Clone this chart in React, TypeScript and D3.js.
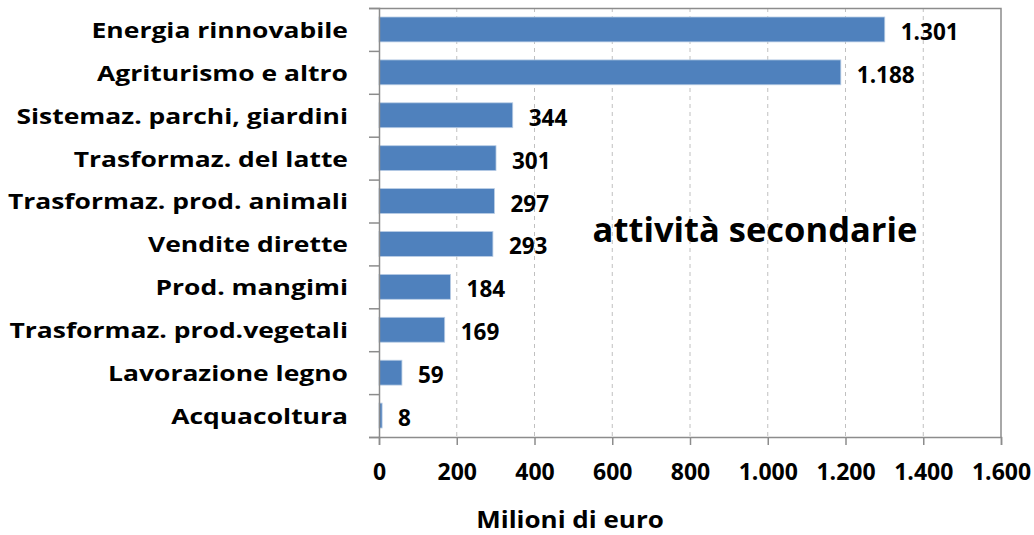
import { useEffect, useRef } from 'react'
import * as d3 from 'd3'

// categories, top to bottom
const categories = [
  'Energia rinnovabile',
  'Agriturismo e altro',
  'Sistemaz. parchi, giardini',
  'Trasformaz. del latte',
  'Trasformaz. prod. animali',
  'Vendite dirette',
  'Prod. mangimi',
  'Trasformaz. prod.vegetali',
  'Lavorazione legno',
  'Acquacoltura',
]
// values in millions of euro
const values = [1301, 1188, 344, 301, 297, 293, 184, 169, 59, 8]
const xTicks = [0, 200, 400, 600, 800, 1000, 1200, 1400, 1600]

const FONT = "'Open Sans', sans-serif"
// Italian thousands separator
const fmt = (v: number) => d3.format(',')(v).replace(/,/g, '.')

const App = () => {
  const svgRef = useRef<SVGSVGElement>(null)
  const width = 1034
  const height = 535
  const margin = { top: 8, right: 33, bottom: 98, left: 379 }

  useEffect(() => {
    const innerW = width - margin.left - margin.right
    const innerH = height - margin.top - margin.bottom

    const xScale = d3.scaleLinear().domain([0, 1600]).range([0, innerW])
    const yScale = d3
      .scaleBand()
      .domain(categories)
      .range([0, innerH])
      .paddingInner(0.42)
      .paddingOuter(0.21)

    const svgEl = d3.select(svgRef.current)
    svgEl.selectAll('*').remove()
    const svg = svgEl
      .append('g')
      .attr('transform', `translate(${margin.left},${margin.top})`)

    // dashed vertical gridlines
    svg
      .selectAll('.grid')
      .data(xTicks.slice(1, -1))
      .enter()
      .append('line')
      .attr('x1', (d) => xScale(d))
      .attr('x2', (d) => xScale(d))
      .attr('y1', 0)
      .attr('y2', innerH)
      .attr('stroke', '#c0c0c0')
      .attr('stroke-width', 1)
      .attr('stroke-dasharray', '4,4')

    // plot area border top/right
    svg
      .append('path')
      .attr('d', `M0,0.5H${innerW}V${innerH}`)
      .attr('fill', 'none')
      .attr('stroke', '#8c8c8c')
      .attr('stroke-width', 1.5)

    // bars
    svg
      .selectAll('.bar')
      .data(values)
      .enter()
      .append('rect')
      .attr('x', 0)
      .attr('y', (d, i) => yScale(categories[i]) as number)
      .attr('width', (d) => xScale(d))
      .attr('height', yScale.bandwidth())
      .attr('fill', '#4f81bd')
      .attr('stroke', '#b9cde5')
      .attr('stroke-width', 0.8)

    // data labels (outside end)
    svg
      .selectAll('.val')
      .data(values)
      .enter()
      .append('text')
      .attr('x', (d) => xScale(d) + 16)
      .attr('y', (d, i) => (yScale(categories[i]) as number) + yScale.bandwidth() / 2 + 2)
      .attr('dominant-baseline', 'central')
      .style('font-family', FONT)
      .style('font-weight', '700')
      .style('font-size', '22.5px')
      .style('fill', '#000')
      .text((d) => fmt(d))

    // y axis with ticks between categories
    const yAxis = d3
      .axisLeft(d3.scaleLinear().domain([0, categories.length]).range([0, innerH]))
      .tickValues(d3.range(0, categories.length + 1))
      .tickSize(10)
      .tickFormat(() => '')
    const yAxisGroup = svg.append('g').call(yAxis)
    yAxisGroup.selectAll('line, path').attr('stroke', '#8c8c8c').attr('stroke-width', 1.5)

    // category labels, a bit stretched horizontally like the original
    svg
      .selectAll('.cat')
      .data(categories)
      .enter()
      .append('text')
      .attr(
        'transform',
        (d) => `translate(-31,${(yScale(d) as number) + yScale.bandwidth() / 2}) scale(1.26,1)`
      )
      .attr('text-anchor', 'end')
      .attr('dominant-baseline', 'central')
      .style('font-family', FONT)
      .style('font-weight', '700')
      .style('font-size', '21px')
      .style('fill', '#000')
      .text((d) => d)

    // x axis
    const xAxis = d3
      .axisBottom(xScale)
      .tickValues(xTicks)
      .tickSize(8)
      .tickPadding(19)
      .tickFormat((d) => fmt(d as number))
    const xAxisGroup = svg
      .append('g')
      .attr('transform', `translate(0, ${innerH})`)
      .call(xAxis)
    xAxisGroup.selectAll('line, path').attr('stroke', '#8c8c8c').attr('stroke-width', 1.5)
    xAxisGroup
      .selectAll('text')
      .style('font-family', FONT)
      .style('font-weight', '700')
      .style('font-size', '23px')
      .style('fill', '#000')

    // axis title
    svgEl
      .append('text')
      .attr('transform', 'translate(570,527.5) scale(1.13,1)')
      .attr('text-anchor', 'middle')
      .style('font-family', FONT)
      .style('font-weight', '700')
      .style('font-size', '23px')
      .text('Milioni di euro')

    // chart annotation
    svgEl
      .append('text')
      .attr('x', 755)
      .attr('y', 241.5)
      .attr('text-anchor', 'middle')
      .style('font-family', FONT)
      .style('font-weight', '700')
      .style('font-size', '34.5px')
      .text('attività secondarie')
  }, [])

  return (
    <svg
      ref={svgRef}
      width={width}
      height={height}
      style={{ position: 'absolute', left: 0, top: 0, background: '#fff' }}
    />
  )
}

export default App
